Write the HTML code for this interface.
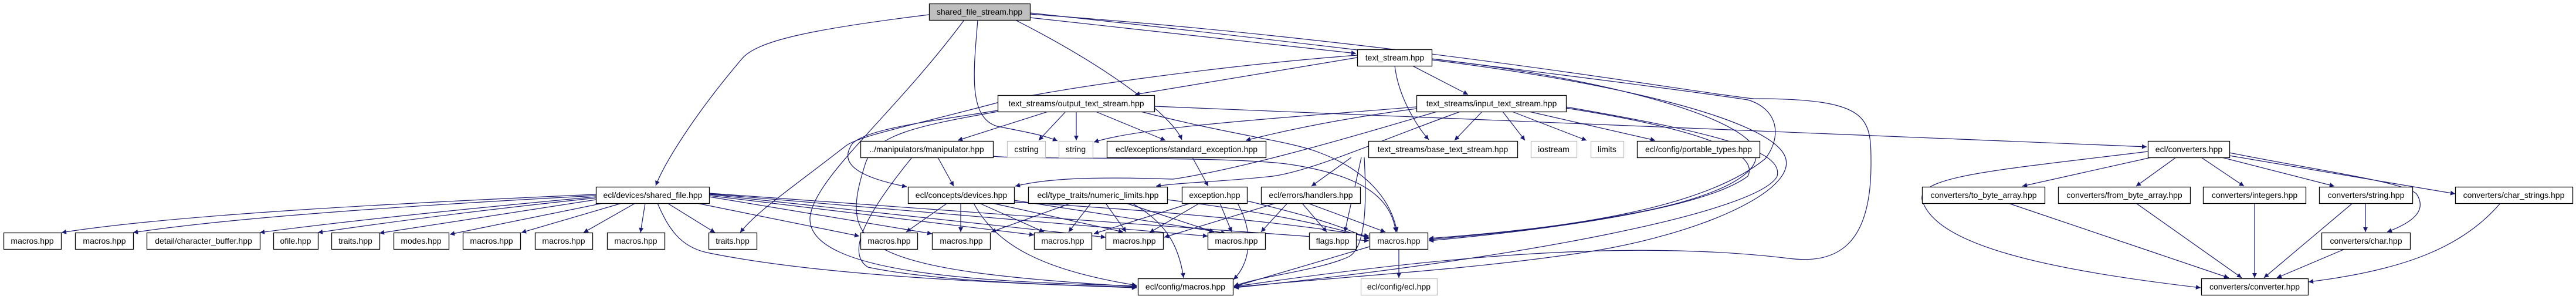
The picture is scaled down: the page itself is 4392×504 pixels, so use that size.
<!DOCTYPE html>
<html><head><meta charset="utf-8"><style>
html,body{margin:0;padding:0;background:#fff;width:4392px;height:504px;overflow:hidden}
svg{display:block}
text{font-family:"Liberation Sans",sans-serif;font-size:14px;fill:#000}
.n{fill:#fff;stroke:#000;stroke-width:1.3}
.g{fill:#fff;stroke:#bfbfbf;stroke-width:1.3}
.e{fill:none;stroke:#191970;stroke-width:1.2;marker-end:url(#a)}
</style></head><body>
<svg width="4392" height="504" viewBox="0 0 4392 504" xmlns="http://www.w3.org/2000/svg">
<defs><marker id="a" viewBox="0 0 10 10" refX="10" refY="5" markerWidth="10" markerHeight="8" markerUnits="userSpaceOnUse" orient="auto"><path d="M0,0 L10,5 L0,10 z" fill="#191970"/></marker></defs>

<g>
<!-- shared_file_stream edges -->
<path class="e" d="M1584,25 C1380,50 1290,70 1265,100 C1180,200 1132,280 1118,316"/>
<path class="e" d="M1644,34 C1520,200 1390,300 1381,370 C1375,470 1700,480 1938,487"/>
<path class="e" d="M1667,34 C1660,120 1650,200 1700,215 C1750,225 1780,230 1803,240"/>
<path class="e" d="M1731,34 C1900,120 2000,200 2015,238"/>
<path class="e" d="M1756,30 L2312,91"/>
<path class="e" d="M1756,22 C2300,80 2850,150 2980,170 C3030,185 3040,230 3010,270 C2900,360 2650,390 2436,406"/>
<path class="e" d="M1756,24 C2400,70 2900,160 2990,168 C3190,168 3190,200 3190,280 C3190,420 3130,450 3050,440 C2800,410 2500,430 2104,488"/>
<!-- text_stream edges -->
<path class="e" d="M2314,98 L1935,161"/>
<path class="e" d="M2314,94 C2100,110 1800,150 1700,175 C1550,215 1460,232 1440,250 C1350,320 1290,360 1262,396"/>
<path class="e" d="M2408,112 L2503,161"/>
<path class="e" d="M2378,112 C2385,170 2420,220 2436,238"/>
<path class="e" d="M2441,100 C2700,130 2900,180 2970,230 C3040,280 2950,330 2800,360 C2650,390 2520,400 2436,408"/>
<path class="e" d="M2441,102 C2750,140 3000,200 3040,260 C3080,320 2900,400 2700,430 C2500,460 2300,470 2104,489"/>
<!-- output_text_stream edges -->
<path class="e" d="M1787,190 L1633,239"/>
<path class="e" d="M1817,190 L1771,239"/>
<path class="e" d="M1835,190 L1835,239"/>
<path class="e" d="M1868,190 L1987,239"/>
<path class="e" d="M1701,188 C1600,205 1460,220 1450,250 C1430,285 1480,305 1546,318"/>
<path class="e" d="M1701,190 C1560,215 1490,230 1475,280 C1430,420 1460,460 1938,488"/>
<path class="e" d="M1945,190 C2100,230 2200,240 2250,260 C2330,290 2372,340 2382,395"/>
<path class="e" d="M1968,181 L3660,250"/>
<!-- manipulator -->
<path class="e" d="M1599,268 L1626,317"/>
<path class="e" d="M1555,268 C1480,360 1440,430 1480,455 C1600,480 1800,485 1938,489"/>
<path class="e" d="M1693,266 C1740,272 2100,265 2200,280 C2330,300 2372,340 2380,395"/>
<!-- input_text_stream -->
<path class="e" d="M2527,190 L2480,239"/>
<path class="e" d="M2562,190 L2600,239"/>
<path class="e" d="M2578,190 L2705,239"/>
<path class="e" d="M2607,190 L2822,239"/>
<path class="e" d="M2415,182 C2200,200 1950,215 1865,242"/>
<path class="e" d="M2415,185 C2300,200 2200,220 2124,239"/>
<path class="e" d="M2450,190 C2250,250 2100,290 2000,305 C1850,300 1780,305 1731,317"/>
<path class="e" d="M2490,190 C2350,240 2240,290 2170,300 C2080,310 2020,310 1971,317"/>
<path class="e" d="M2670,184 C2900,220 3000,260 2980,300 C2900,360 2600,395 2436,410"/>
<path class="e" d="M2670,182 C2950,230 3040,260 3030,300 C3000,360 2600,440 2104,490"/>
<!-- base_text_stream -->
<path class="e" d="M2304,268 L2236,317"/>
<path class="e" d="M2321,268 C2310,320 2300,360 2293,395"/>
<path class="e" d="M2326,268 C2330,340 2330,420 2300,437 C2250,460 2150,470 2104,487"/>
<!-- standard_exception -->
<path class="e" d="M2033,268 L2060,317"/>
<!-- devices -->
<path class="e" d="M1615,346 L1545,395"/>
<path class="e" d="M1638,346 L1638,395"/>
<path class="e" d="M1670,346 L1780,395"/>
<path class="e" d="M1692,346 L1915,395"/>
<path class="e" d="M1729,341 L2090,397"/>
<path class="e" d="M1660,346 C1700,420 1780,460 1938,486"/>
<path class="e" d="M1729,344 C2000,360 2200,380 2334,402"/>
<!-- numeric_limits -->
<path class="e" d="M1826,346 L1690,395"/>
<path class="e" d="M1860,346 L1822,395"/>
<path class="e" d="M1885,346 L1920,395"/>
<path class="e" d="M1920,346 L2070,395"/>
<path class="e" d="M1930,346 C1990,380 2010,420 2018,473"/>
<path class="e" d="M1990,340 C2150,360 2250,380 2334,405"/>
<!-- exception -->
<path class="e" d="M2030,346 L1865,398"/>
<path class="e" d="M2045,346 L1960,396"/>
<path class="e" d="M2080,346 L2100,395"/>
<path class="e" d="M2110,346 C2140,400 2130,450 2103,476"/>
<path class="e" d="M2126,342 C2200,360 2280,380 2334,407"/>
<!-- handlers -->
<path class="e" d="M2175,346 L1985,404"/>
<path class="e" d="M2195,346 L2150,395"/>
<path class="e" d="M2220,346 L2262,395"/>
<path class="e" d="M2230,346 L2362,395"/>
<!-- shared_file -->
<path class="e" d="M1016,331 C700,345 300,365 105,396"/>
<path class="e" d="M1016,333 C700,350 400,370 227,396"/>
<path class="e" d="M1016,335 C800,355 600,375 443,396"/>
<path class="e" d="M1016,337 C800,360 650,380 542,396"/>
<path class="e" d="M1016,340 C850,365 720,385 647,397"/>
<path class="e" d="M1028,346 L767,399"/>
<path class="e" d="M1060,346 L889,396"/>
<path class="e" d="M1083,346 L995,396"/>
<path class="e" d="M1100,346 L1092,396"/>
<path class="e" d="M1138,346 L1219,396"/>
<path class="e" d="M1121,346 C1140,390 1160,420 1205,430 C1400,470 1700,482 1938,490"/>
<path class="e" d="M1188,346 L1465,402"/>
<path class="e" d="M1209,335 L1589,398"/>
<path class="e" d="M1209,333 L1763,400"/>
<path class="e" d="M1209,331 L1885,404"/>
<path class="e" d="M1209,330 L2059,402"/>
<path class="e" d="M1209,329 L2334,410"/>
<!-- macros 2385 -->
<path class="e" d="M2385,424 L2385,473"/>
<path class="e" d="M2335,420 L2104,488"/>
<!-- converters -->
<path class="e" d="M3668,268 L3448,317"/>
<path class="e" d="M3710,268 L3642,317"/>
<path class="e" d="M3753,268 L3826,317"/>
<path class="e" d="M3788,268 L3980,317"/>
<path class="e" d="M3801,265 L4186,330"/>
<path class="e" d="M3801,260 C3950,290 4100,310 4120,330 C4140,360 4110,380 4070,395"/>
<path class="e" d="M3662,258 C3400,290 3270,300 3277,340 C3300,420 3500,460 3752,490"/>
<path class="e" d="M3424,346 L3800,473"/>
<path class="e" d="M3642,346 L3822,473"/>
<path class="e" d="M3844,346 L3844,473"/>
<path class="e" d="M4033,346 L4033,395"/>
<path class="e" d="M4011,346 L3860,473"/>
<path class="e" d="M3998,424 L3882,473"/>
<path class="e" d="M4263,346 C4200,420 4100,460 3936,480"/>
</g>

<g>
<rect x="1584.5" y="6.5" width="172" height="28" fill="#bfbfbf" stroke="#000" stroke-width="1.3"/><text x="1670" y="25" text-anchor="middle">shared_file_stream.hpp</text>
<rect class="n" x="2314.5" y="84.5" width="127" height="28"/><text x="2378" y="103" text-anchor="middle">text_stream.hpp</text>
<rect class="n" x="1701.5" y="162.5" width="267" height="28"/><text x="1835" y="181" text-anchor="middle">text_streams/output_text_stream.hpp</text>
<rect class="n" x="2415.5" y="162.5" width="255" height="28"/><text x="2543" y="181" text-anchor="middle">text_streams/input_text_stream.hpp</text>
<rect class="n" x="1467.5" y="240.5" width="226" height="28"/><text x="1580" y="259" text-anchor="middle">../manipulators/manipulator.hpp</text>
<rect class="g" x="1717.5" y="240.5" width="65" height="28"/><text x="1750" y="259" text-anchor="middle">cstring</text>
<rect class="g" x="1805.5" y="240.5" width="58" height="28"/><text x="1834" y="259" text-anchor="middle">string</text>
<rect class="n" x="1887.5" y="240.5" width="271" height="28"/><text x="2023" y="259" text-anchor="middle">ecl/exceptions/standard_exception.hpp</text>
<rect class="n" x="2333.5" y="240.5" width="254" height="28"/><text x="2460" y="259" text-anchor="middle">text_streams/base_text_stream.hpp</text>
<rect class="g" x="2610.5" y="240.5" width="78" height="28"/><text x="2649" y="259" text-anchor="middle">iostream</text>
<rect class="g" x="2712.5" y="240.5" width="56" height="28"/><text x="2740" y="259" text-anchor="middle">limits</text>
<rect class="n" x="2791.5" y="240.5" width="209" height="28"/><text x="2896" y="259" text-anchor="middle">ecl/config/portable_types.hpp</text>
<rect class="n" x="3662.5" y="240.5" width="139" height="28"/><text x="3732" y="259" text-anchor="middle">ecl/converters.hpp</text>

<rect class="n" x="1016.5" y="318.5" width="193" height="28"/><text x="1113" y="337" text-anchor="middle">ecl/devices/shared_file.hpp</text>
<rect class="n" x="1548.5" y="318.5" width="181" height="28"/><text x="1639" y="337" text-anchor="middle">ecl/concepts/devices.hpp</text>
<rect class="n" x="1753.5" y="318.5" width="237" height="28"/><text x="1872" y="337" text-anchor="middle">ecl/type_traits/numeric_limits.hpp</text>
<rect class="n" x="2015.5" y="318.5" width="111" height="28"/><text x="2071" y="337" text-anchor="middle">exception.hpp</text>
<rect class="n" x="2150.5" y="318.5" width="169" height="28"/><text x="2235" y="337" text-anchor="middle">ecl/errors/handlers.hpp</text>
<rect class="n" x="3277.5" y="318.5" width="209" height="28"/><text x="3382" y="337" text-anchor="middle">converters/to_byte_array.hpp</text>
<rect class="n" x="3509.5" y="318.5" width="225" height="28"/><text x="3622" y="337" text-anchor="middle">converters/from_byte_array.hpp</text>
<rect class="n" x="3756.5" y="318.5" width="175" height="28"/><text x="3844" y="337" text-anchor="middle">converters/integers.hpp</text>
<rect class="n" x="3954.5" y="318.5" width="159" height="28"/><text x="4034" y="337" text-anchor="middle">converters/string.hpp</text>
<rect class="n" x="4186.5" y="318.5" width="200" height="28"/><text x="4286" y="337" text-anchor="middle">converters/char_strings.hpp</text>

<rect class="n" x="6.5" y="396.5" width="98" height="28"/><text x="55" y="415" text-anchor="middle">macros.hpp</text>
<rect class="n" x="128.5" y="396.5" width="99" height="28"/><text x="178" y="415" text-anchor="middle">macros.hpp</text>
<rect class="n" x="250.5" y="396.5" width="193" height="28"/><text x="347" y="415" text-anchor="middle">detail/character_buffer.hpp</text>
<rect class="n" x="466.5" y="396.5" width="76" height="28"/><text x="504" y="415" text-anchor="middle">ofile.hpp</text>
<rect class="n" x="565.5" y="396.5" width="82" height="28"/><text x="606" y="415" text-anchor="middle">traits.hpp</text>
<rect class="n" x="671.5" y="396.5" width="94" height="28"/><text x="718" y="415" text-anchor="middle">modes.hpp</text>
<rect class="n" x="789.5" y="396.5" width="98" height="28"/><text x="838" y="415" text-anchor="middle">macros.hpp</text>
<rect class="n" x="912.5" y="396.5" width="98" height="28"/><text x="961" y="415" text-anchor="middle">macros.hpp</text>
<rect class="n" x="1035.5" y="396.5" width="98" height="28"/><text x="1084" y="415" text-anchor="middle">macros.hpp</text>
<rect class="n" x="1208.5" y="396.5" width="82" height="28"/><text x="1249" y="415" text-anchor="middle">traits.hpp</text>
<rect class="n" x="1467.5" y="396.5" width="97" height="28"/><text x="1516" y="415" text-anchor="middle">macros.hpp</text>
<rect class="n" x="1589.5" y="396.5" width="99" height="28"/><text x="1639" y="415" text-anchor="middle">macros.hpp</text>
<rect class="n" x="1763.5" y="396.5" width="98" height="28"/><text x="1812" y="415" text-anchor="middle">macros.hpp</text>
<rect class="n" x="1885.5" y="396.5" width="98" height="28"/><text x="1934" y="415" text-anchor="middle">macros.hpp</text>
<rect class="n" x="2059.5" y="396.5" width="98" height="28"/><text x="2108" y="415" text-anchor="middle">macros.hpp</text>
<rect class="n" x="2232.5" y="396.5" width="80" height="28"/><text x="2272" y="415" text-anchor="middle">flags.hpp</text>
<rect class="n" x="2335.5" y="396.5" width="99" height="28"/><text x="2385" y="415" text-anchor="middle">macros.hpp</text>
<rect class="n" x="3958.5" y="396.5" width="151" height="28"/><text x="4034" y="415" text-anchor="middle">converters/char.hpp</text>

<rect class="n" x="1940.5" y="474.5" width="162" height="28"/><text x="2021" y="493" text-anchor="middle">ecl/config/macros.hpp</text>
<rect class="g" x="2320.5" y="474.5" width="130" height="28"/><text x="2385" y="493" text-anchor="middle">ecl/config/ecl.hpp</text>
<rect class="n" x="3753.5" y="474.5" width="182" height="28"/><text x="3844" y="493" text-anchor="middle">converters/converter.hpp</text>
</g>
</svg>
</body></html>
